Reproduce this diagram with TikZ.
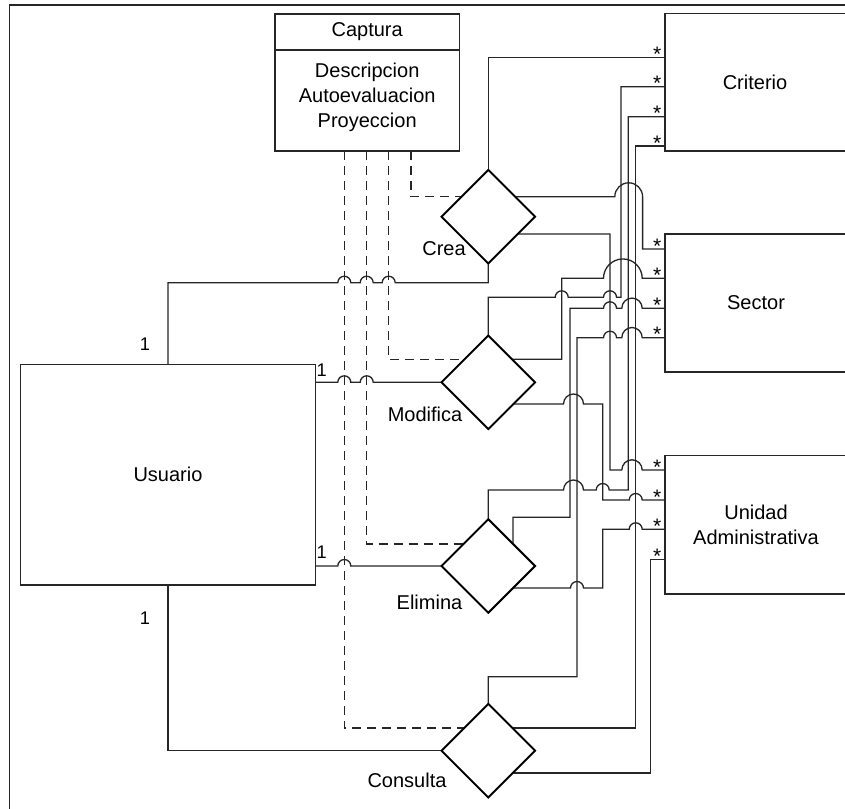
\documentclass[tikz,border=0pt]{standalone}
\usepackage{fontspec}
\setmainfont{Liberation Sans}
\usetikzlibrary{shapes.geometric,calc}
\begin{document}
\begin{tikzpicture}[x=1pt,y=-1pt,
  txt/.style={font=\fontsize{20}{25}\selectfont,inner sep=0pt},
  lbl/.style={font=\fontsize{18.3}{20}\selectfont,inner sep=0pt,anchor=base},
  star/.style={font=\fontsize{21}{22}\selectfont,inner sep=0pt,anchor=base},
  box/.style={draw=black!85,line width=1.3pt,fill=white,rectangle,inner sep=0pt,outer sep=0pt,font=\fontsize{20}{25}\selectfont,align=center},
  rel/.style={draw=black,line width=1.8pt,fill=white,diamond,minimum width=93.4pt,minimum height=93.4pt,inner sep=0pt,outer sep=0pt},
  edge/.style={draw=black!85,line width=1.3pt},
  dashedge/.style={draw=black!85,line width=1.3pt,dash pattern=on 9pt off 6pt},
  frame/.style={draw=black!85,line width=1.3pt}
]
\useasboundingbox (0,0) rectangle (845,808);
\clip (0,0) rectangle (845,808);
\fill[white] (0,0) rectangle (845,808);
\draw[frame] (9.3,900) -- (9.3,5) -- (900,5);

% entities
\node[box,minimum width=184.3pt,minimum height=137pt] (captura) at (367.2,82.5) {};
\draw[edge] (captura.west |- 0,50) -- (captura.east |- 0,50);
\node[txt] (capturaT) at (367.2,32) {Captura};
\node[txt,align=center] (capturaA) at (367.2,97) {Descripcion\\Autoevaluacion\\Proyeccion};

\node[box,minimum width=182pt,minimum height=137.7pt] (criterio) at (756,82.2) {};
\node[txt] (criterioT) at (755,82) {Criterio};
\node[box,minimum width=182pt,minimum height=138pt] (sector) at (756,303) {};
\node[txt] (sectorT) at (756,303) {Sector};
\node[box,minimum width=182pt,minimum height=138.7pt] (unidad) at (756,524.7) {};
\node[txt,align=center] (unidadT) at (756,525) {Unidad\\Administrativa};
\node[box,minimum width=294.6pt,minimum height=220.7pt] (usuario) at (168,474.7) {Usuario};

% ports
\coordinate (cr1) at (665,57.3);
\coordinate (cr2) at (665,86.7);
\coordinate (cr3) at (665,116.7);
\coordinate (cr4) at (665,146);
\coordinate (se1) at (665,249);
\coordinate (se2) at (665,278.3);
\coordinate (se3) at (665,308.3);
\coordinate (se4) at (665,337.7);
\coordinate (ua1) at (665,470);
\coordinate (ua2) at (665,500);
\coordinate (ua3) at (665,529.3);
\coordinate (ua4) at (665,559.3);

% relationships
\node[rel] (crea) at (488.3,216.7) {};
\node[rel] (modifica) at (488.3,382.3) {};
\node[rel] (elimina) at (488.3,566) {};
\node[rel] (consulta) at (488.3,750.7) {};

% Crea
\draw[edge] (crea.north) |- (cr1);
\draw[edge] ($(crea)+(26.7,-20)$) -- (614.8,196.7) arc[start angle=180,end angle=0,radius=13.9pt] |- (se1);
\draw[edge] ($(crea)+(29.4,17.3)$) -| (610,470) -- (621.8,470) arc[start angle=180,end angle=0,radius=10.2pt] -- (ua1);
% Modifica
\draw[edge] (modifica.north) -- (488.3,297.3) -- (555.2,297.3) arc[start angle=180,end angle=0,radius=6.5pt] -- (603.5,297.3) arc[start angle=180,end angle=0,radius=6.5pt] -- (621,297.3) |- (cr2);
\draw[edge] ($(modifica)+(23.7,-23)$) -- (561.7,359.3) -- (561.7,278.3) -- (603.5,278.3) arc[start angle=180,end angle=0,radius=19.35pt] -- (se2);
\draw[edge] ($(modifica)+(25,21.7)$) -- (563.5,404) arc[start angle=180,end angle=0,radius=10pt] -- (602.7,404) -- (602.7,500) -- (629.2,500) arc[start angle=180,end angle=0,radius=6.5pt] -- (ua2);
% Elimina
\draw[edge] (elimina.north) -- (488.3,490) -- (563.5,490) arc[start angle=180,end angle=0,radius=10pt] -- (596.2,490) arc[start angle=180,end angle=0,radius=6.5pt] -- (628.3,490) |- (cr3);
\draw[edge] ($(elimina)+(24.7,-22)$) -- (513,517.3) -- (570,517.3) -- (570,308.3) -- (603.5,308.3) arc[start angle=180,end angle=0,radius=6.5pt] -- (621.8,308.3) arc[start angle=180,end angle=0,radius=10.2pt] -- (se3);
\draw[edge] ($(elimina)+(24.7,22)$) -- (570.5,588) arc[start angle=180,end angle=0,radius=6.5pt] -- (602.7,588) -- (602.7,529.3) -- (629.2,529.3) arc[start angle=180,end angle=0,radius=6.5pt] -- (ua3);
% Consulta
\draw[edge] (consulta.north) -- (488.3,676.7) -- (577,676.7) -- (577,337.7) -- (603.5,337.7) arc[start angle=180,end angle=0,radius=6.5pt] -- (621.8,337.7) arc[start angle=180,end angle=0,radius=10.2pt] -- (se4);
\draw[edge] ($(consulta)+(24,-22.7)$) -| (635.7,146) -- (cr4);
\draw[edge] ($(consulta)+(24.4,22.3)$) -| (650.7,559.3) -- (ua4);

% Usuario
\draw[edge] (usuario.north) -- (168,282.7) -- (337.8,282.7) arc[start angle=180,end angle=0,radius=6.5pt] -- (360.2,282.7) arc[start angle=180,end angle=0,radius=6.5pt] -- (382.2,282.7) arc[start angle=180,end angle=0,radius=6.5pt] -- (488.3,282.7) -- (crea.south);
\draw[edge] (usuario.east |- 0,382.3) -- (337.8,382.3) arc[start angle=180,end angle=0,radius=6.5pt] -- (360.2,382.3) arc[start angle=180,end angle=0,radius=6.5pt] -- (modifica.west);
\draw[edge] (usuario.east |- 0,566) -- (337.8,566) arc[start angle=180,end angle=0,radius=6.5pt] -- (elimina.west);
\draw[edge] (usuario.south) |- (consulta.west);

% Captura dashed
\draw[dashedge] (captura.south -| 411,0) |- ($(crea)+(-26.7,-20)$);
\draw[dashedge] (captura.south -| 388.7,0) |- ($(modifica)+(-23.7,-23)$);
\draw[dashedge] (captura.south -| 366.7,0) |- ($(elimina)+(-25.3,-22)$);
\draw[dashedge] (captura.south -| 344.3,0) |- ($(consulta)+(-24,-22.7)$);

% diamonds on top
\node[rel] at (crea) {};
\node[rel] at (modifica) {};
\node[rel] at (elimina) {};
\node[rel] at (consulta) {};

% relation labels
\node[txt] (creaL) at (444,249) {Crea};
\node[txt] (modificaL) at (425,414) {Modifica};
\node[txt] (eliminaL) at (429.5,602.5) {Elimina};
\node[txt] (consultaL) at (407,780) {Consulta};

% multiplicities
\foreach \n/\yy in {s1/57.3,s2/86.7,s3/116.7,s4/146,s5/249,s6/278.3,s7/308.3,s8/337.7,s9/470,s10/500,s11/529.3,s12/559.3}
  \node[star] (\n) at (657.3,\yy+4) {*};
\node[lbl] (one1) at (145,350.7) {1};
\node[lbl] (one2) at (321.7,376.7) {1};
\node[lbl] (one3) at (321.7,558.3) {1};
\node[lbl] (one4) at (145,624) {1};
\end{tikzpicture}
\end{document}
